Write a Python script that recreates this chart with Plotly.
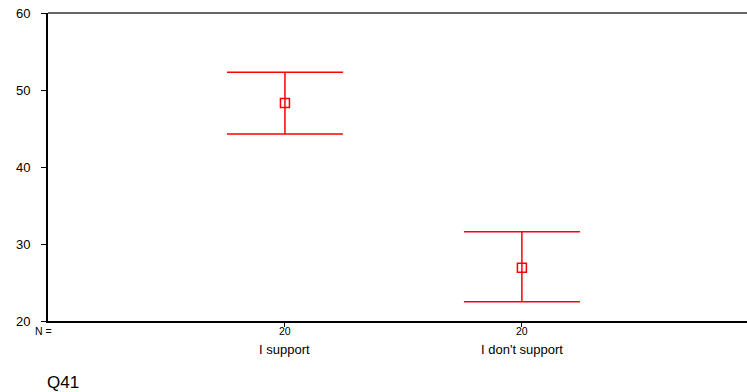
import plotly.graph_objects as go

categories = ["I support", "I don't support"]
x_pos = [1, 2]
means = [48.3, 26.9]
upper = [52.3, 31.6]
lower = [44.3, 22.5]
n_values = [20, 20]
y_ticks = [20, 30, 40, 50, 60]

err_plus = [u - m for u, m in zip(upper, means)]
err_minus = [m - l for m, l in zip(means, lower)]

RED = "#ff0000"
FONT = "Liberation Sans, Arial, sans-serif"

fig = go.Figure()
fig.add_trace(go.Scatter(
    x=x_pos, y=means, mode="markers",
    marker=dict(symbol="square-open", size=9, color=RED, line=dict(width=1.5, color=RED)),
    error_y=dict(type="data", symmetric=False, array=err_plus, arrayminus=err_minus,
                 color=RED, thickness=1.5, width=58),
    showlegend=False, hoverinfo="skip",
))

annotations = []
for xp, n, cat in zip(x_pos, n_values, categories):
    annotations.append(dict(x=xp, y=-0.0325, xref="x", yref="paper", text=str(n),
                            showarrow=False, yanchor="middle", font=dict(size=10.5, color="#000", family=FONT)))
    annotations.append(dict(x=xp, y=-0.094, xref="x", yref="paper", text=cat,
                            showarrow=False, yanchor="middle", font=dict(size=13, color="#000", family=FONT)))
annotations.append(dict(x=-0.006, y=-0.0325, xref="paper", yref="paper", text="N =",
                        showarrow=False, xanchor="center", yanchor="middle",
                        font=dict(size=10.5, color="#000", family=FONT)))
annotations.append(dict(x=-0.0043, y=-0.201, xref="paper", yref="paper", text="Q41",
                        showarrow=False, xanchor="left", yanchor="middle",
                        font=dict(size=17, color="#000", family=FONT)))

fig.update_layout(
    width=747, height=392,
    margin=dict(l=48, r=0, t=13, b=71, autoexpand=False),
    paper_bgcolor="white", plot_bgcolor="white",
    font=dict(family=FONT, color="#000"),
    annotations=annotations,
    shapes=[dict(type="line", xref="paper", yref="paper", x0=0, x1=1, y0=1, y1=1,
                 line=dict(color="#666666", width=2))],
    xaxis=dict(range=[0, 2.95], showgrid=False, zeroline=False, showline=True,
               linecolor="#000", linewidth=2, tickvals=x_pos, ticktext=["", ""],
               ticks="outside", ticklen=4, tickcolor="#000", tickwidth=1,
               fixedrange=True, automargin=False),
    yaxis=dict(range=[20, 60], tickvals=y_ticks, showgrid=False, zeroline=False,
               showline=True, linecolor="#000", linewidth=2, ticks="outside",
               ticklen=5, tickcolor="#000", tickwidth=1, ticklabelstandoff=8,
               tickfont=dict(size=13, color="#000", family=FONT),
               fixedrange=True, automargin=False),
)

fig.write_html(
    "out.html",
    config={"displayModeBar": False},
    post_script="document.body.style.margin='0';document.body.style.overflow='hidden';",
)
